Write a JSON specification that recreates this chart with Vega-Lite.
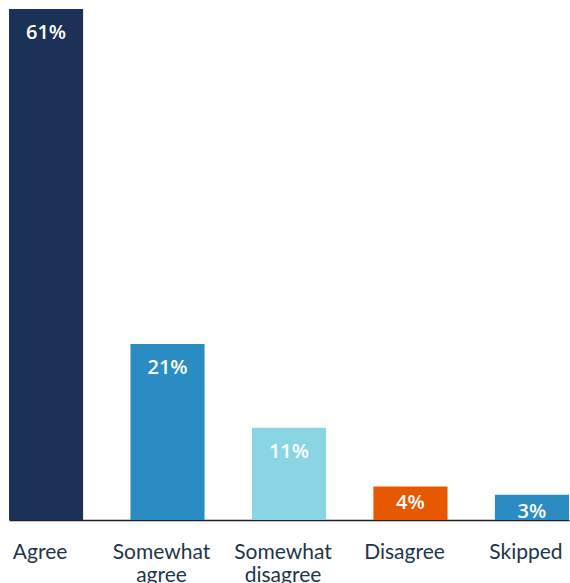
{
  "$schema": "https://vega.github.io/schema/vega-lite/v6.json",
  "autosize": "none",
  "width": 560,
  "height": 511,
  "padding": {"left": 9, "top": 9, "right": 1, "bottom": 63},
  "background": "white",
  "config": {"view": {"stroke": null}},
  "data": {
    "values": [
      {"answer": "Agree", "pct": 61, "label": "61%", "color": "navy"},
      {"answer": "Somewhat agree", "pct": 21, "label": "21%", "color": "blue"},
      {"answer": "Somewhat disagree", "pct": 11, "label": "11%", "color": "light"},
      {"answer": "Disagree", "pct": 4, "label": "4%", "color": "orange"},
      {"answer": "Skipped", "pct": 3, "label": "3%", "color": "blue"}
    ]
  },
  "encoding": {
    "x": {
      "field": "answer",
      "type": "nominal",
      "sort": null,
      "scale": {"paddingInner": 0.39, "paddingOuter": 0},
      "axis": {
        "title": null,
        "labelAngle": 0,
        "labelExpr": "split(datum.label, ' ')",
        "labelFont": "Lato",
        "labelFontSize": 21,
        "labelColor": "#1d3649",
        "labelBaseline": "alphabetic",
        "labelPadding": 38,
        "labelLineHeight": 23,
        "labelOffset": -6,
        "labelOverlap": false,
        "labelBound": false,
        "ticks": false,
        "domainColor": "#222222",
        "domainWidth": 1.5
      }
    },
    "y": {
      "field": "pct",
      "type": "quantitative",
      "scale": {"domain": [0, 61], "nice": false},
      "axis": null
    }
  },
  "layer": [
    {
      "mark": {"type": "bar"},
      "encoding": {
        "color": {
          "field": "color",
          "type": "nominal",
          "scale": {
            "domain": ["navy", "blue", "light", "orange"],
            "range": ["#1b3157", "#2a8cc2", "#8ad5e3", "#e85800"]
          },
          "legend": null
        }
      }
    },
    {
      "mark": {
        "type": "text",
        "baseline": "alphabetic",
        "dy": {"expr": "datum.pct < 5 ? 23 : 30"},
        "font": "Open Sans",
        "fontSize": 20,
        "fontWeight": 600,
        "color": "white"
      },
      "encoding": {"text": {"field": "label"}}
    }
  ]
}
